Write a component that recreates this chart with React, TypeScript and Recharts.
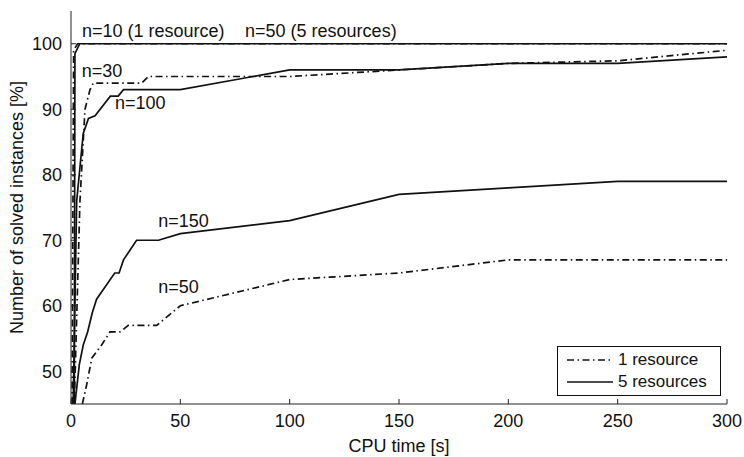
import { LineChart, Line, XAxis, YAxis, ReferenceDot, Legend } from 'recharts';

type Pt = { t: number; v: number };

// CPU time [s] vs. solved instances [%]
const n10OneResource: Pt[] = [
  { t: 0.5, v: 45 }, { t: 1.2, v: 99 }, { t: 3, v: 100 }, { t: 300, v: 100 },
];
const n50FiveResources: Pt[] = [
  { t: 1.5, v: 45 }, { t: 1.8, v: 98.5 }, { t: 4, v: 100 }, { t: 300, v: 100 },
];
const n30OneResource: Pt[] = [
  { t: 1.5, v: 45 }, { t: 4.1, v: 76 }, { t: 6.4, v: 90 }, { t: 8.7, v: 93 },
  { t: 10.2, v: 94 }, { t: 32.3, v: 94 }, { t: 35.4, v: 95 }, { t: 100, v: 95 },
  { t: 150, v: 96 }, { t: 200, v: 97 }, { t: 250, v: 97.4 }, { t: 300, v: 99 },
];
const n100FiveResources: Pt[] = [
  { t: 1, v: 45 }, { t: 2.6, v: 76 }, { t: 5.6, v: 86.3 }, { t: 8, v: 88.6 },
  { t: 11, v: 89 }, { t: 18, v: 92 }, { t: 21.6, v: 92 }, { t: 24, v: 93 },
  { t: 50, v: 93 }, { t: 100, v: 96 }, { t: 150, v: 96 }, { t: 200, v: 97 },
  { t: 250, v: 97 }, { t: 300, v: 98 },
];
const n150FiveResources: Pt[] = [
  { t: 1.8, v: 45 }, { t: 3.8, v: 51 }, { t: 5.6, v: 54 }, { t: 7.6, v: 56 },
  { t: 9.8, v: 59 }, { t: 11.7, v: 61 }, { t: 20, v: 65 }, { t: 22, v: 65 },
  { t: 24, v: 67 }, { t: 30, v: 70 }, { t: 40, v: 70 }, { t: 50, v: 71 },
  { t: 100, v: 73 }, { t: 150, v: 77 }, { t: 200, v: 78 }, { t: 250, v: 79 },
  { t: 300, v: 79 },
];
const n50OneResource: Pt[] = [
  { t: 5.2, v: 45 }, { t: 7.2, v: 48 }, { t: 9.5, v: 52 }, { t: 14, v: 54 },
  { t: 17.8, v: 56 }, { t: 22.4, v: 56 }, { t: 26.2, v: 57 }, { t: 39.2, v: 57 },
  { t: 50, v: 60 }, { t: 100, v: 64 }, { t: 150, v: 65 }, { t: 200, v: 67 },
  { t: 250, v: 67 }, { t: 300, v: 67 },
];

const xTicks = [0, 50, 100, 150, 200, 250, 300];
const yTicks = [50, 60, 70, 80, 90, 100];

// text annotations placed in data coordinates (left edge, vertical centre)
const annotations = [
  { t: 5, v: 101.95, text: 'n=10 (1 resource)' },
  { t: 79.6, v: 101.95, text: 'n=50 (5 resources)' },
  { t: 4.9, v: 95.8, text: 'n=30' },
  { t: 20.1, v: 90.9, text: 'n=100' },
  { t: 39.9, v: 72.9, text: 'n=150' },
  { t: 39.9, v: 62.8, text: 'n=50' },
];

const legendItems = [
  { label: '1 resource', dash: '7 3.5 1.5 3.5' },
  { label: '5 resources', dash: undefined },
];

const FONT = '"Liberation Sans", Arial, Helvetica, sans-serif';
const DASH_DOT = '7 3.5 1.5 3.5';
const INK = '#111';
const LW = 1.7;

function LegendBox() {
  return (
    <div
      style={{
        border: '1px solid #111',
        background: '#fff',
        padding: '2px 0',
        boxSizing: 'border-box',
        fontFamily: FONT,
        fontSize: 17,
        color: INK,
      }}
    >
      {legendItems.map((it) => (
        <div key={it.label} style={{ display: 'flex', alignItems: 'center', height: 22 }}>
          <svg width={60} height={22} style={{ display: 'block' }}>
            <line x1={9} y1={11} x2={55} y2={11} stroke={INK} strokeWidth={LW} strokeDasharray={it.dash} />
          </svg>
          <span>{it.label}</span>
        </div>
      ))}
    </div>
  );
}

export default function App() {
  return (
    <div style={{ position: 'absolute', left: 0, top: 0, fontFamily: FONT }}>
      <LineChart width={744} height={457} margin={{ top: 11, right: 17, bottom: 0, left: 0 }}>
        <XAxis
          type="number"
          dataKey="t"
          domain={[0, 300]}
          ticks={xTicks}
          height={53}
          tickSize={-5}
          tickMargin={15}
          stroke="#222"
          tick={{ fill: INK, fontSize: 18, fontFamily: FONT }}
          label={{ value: 'CPU time [s]', position: 'insideBottom', offset: 5, fill: INK, fontSize: 18, fontFamily: FONT }}
        />
        <YAxis
          type="number"
          dataKey="v"
          domain={[45, 105]}
          ticks={yTicks}
          width={71}
          tickSize={-5}
          tickMargin={14}
          stroke="#222"
          tick={{ fill: INK, fontSize: 18, fontFamily: FONT }}
          label={{
            value: 'Number of solved instances [%]',
            angle: -90,
            position: 'insideLeft',
            offset: 17,
            fill: INK,
            fontSize: 18,
            fontFamily: FONT,
            style: { textAnchor: 'middle' },
          }}
        />
        <Line data={n10OneResource} dataKey="v" stroke={INK} strokeWidth={LW} strokeDasharray={DASH_DOT} dot={false} isAnimationActive={false} />
        <Line data={n50FiveResources} dataKey="v" stroke={INK} strokeWidth={LW} dot={false} isAnimationActive={false} />
        <Line data={n30OneResource} dataKey="v" stroke={INK} strokeWidth={LW} strokeDasharray={DASH_DOT} dot={false} isAnimationActive={false} />
        <Line data={n100FiveResources} dataKey="v" stroke={INK} strokeWidth={LW} dot={false} isAnimationActive={false} />
        <Line data={n150FiveResources} dataKey="v" stroke={INK} strokeWidth={LW} dot={false} isAnimationActive={false} />
        <Line data={n50OneResource} dataKey="v" stroke={INK} strokeWidth={LW} strokeDasharray={DASH_DOT} dot={false} isAnimationActive={false} />
        {annotations.map((a) => (
          <ReferenceDot
            key={a.text}
            x={a.t}
            y={a.v}
            r={0}
            ifOverflow="visible"
            shape={(p: any) => (
              <text x={p.cx} y={p.cy} dominantBaseline="central" fill={INK} fontSize={18} fontFamily={FONT}>
                {a.text}
              </text>
            )}
          />
        ))}
        <Legend
          layout="vertical"
          align="center"
          verticalAlign="middle"
          wrapperStyle={{ left: 557, top: 346, width: 164, height: 50 }}
          content={() => <LegendBox />}
        />
      </LineChart>
    </div>
  );
}
